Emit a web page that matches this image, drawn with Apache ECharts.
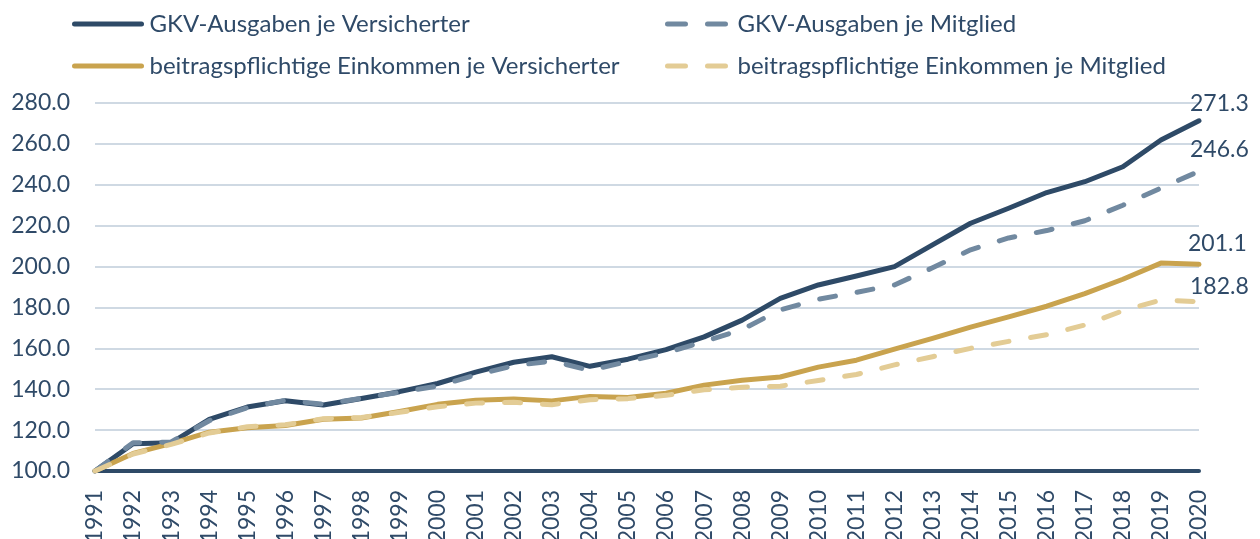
<!DOCTYPE html>
<html>
<head>
<meta charset="utf-8">
<script src="https://cdn.jsdelivr.net/npm/echarts@6/dist/echarts.min.js"></script>
<style>
html,body{margin:0;padding:0;background:#fff;}
#chart{width:1260px;height:539px;}
</style>
</head>
<body>
<div id="chart"></div>
<script>
const years = ['1991','1992','1993','1994','1995','1996','1997','1998','1999','2000','2001','2002','2003','2004','2005','2006','2007','2008','2009','2010','2011','2012','2013','2014','2015','2016','2017','2018','2019','2020'];
const yTicks = [100,120,140,160,180,200,220,240,260,280];

const gkvVersicherter = [100.0,113.3,113.8,125.2,131.3,134.4,132.3,135.5,138.8,142.8,148.4,153.2,155.9,151.2,154.7,159.4,165.6,173.8,184.4,191.0,195.4,200.0,210.6,221.2,228.5,236.2,241.5,248.8,261.9,271.3];
const gkvMitglied = [100.0,113.8,114.2,124.6,131.0,134.6,132.6,135.6,138.5,141.5,147.0,151.5,153.8,149.2,153.6,157.8,163.3,169.2,178.8,184.0,187.4,191.0,199.4,208.2,214.0,217.6,222.4,230.0,238.4,246.6];
const einkVersicherter = [100.0,108.6,113.4,119.0,121.2,122.3,125.3,125.9,129.1,132.6,134.6,135.2,134.3,136.5,136.0,138.0,142.0,144.4,146.0,150.8,154.2,159.6,164.9,170.4,175.4,180.6,186.8,193.8,201.7,201.1];
const einkMitglied = [100.0,108.3,113.0,118.6,121.6,122.6,125.6,126.2,128.7,131.4,133.2,133.6,132.4,134.9,135.4,137.0,139.7,141.0,141.5,144.3,147.2,151.9,155.9,160.0,163.4,166.7,171.4,178.4,183.6,182.8];

const names = ['GKV-Ausgaben je Versicherter','GKV-Ausgaben je Mitglied','beitragspflichtige Einkommen je Versicherter','beitragspflichtige Einkommen je Mitglied'];
const FONT = 'Lato';
const TXT = '#2F4A68';
const NAVY = '#2E4A67';
const GREY = '#7189A0';
const GOLD = '#C9A34E';
const LGOLD = '#E3CC95';

function legend(name, left, top, w, dashed, padLeft){
  return {
    data:[name], left:left, top:top, itemWidth:w, itemHeight:14, itemGap:0,
    itemStyle:{opacity:0},
    lineStyle:{width:5, cap:'round', type: dashed ? [18,22] : 'solid'},
    textStyle:{fontFamily:FONT, fontSize:24, color:TXT, lineHeight:28, padding:[0,0,0,padLeft]},
    padding:0
  };
}

function endLab(off){
  return {show:true, distance:0, offset:off, fontFamily:FONT, fontSize:23, color:TXT,
    formatter: p => Number(p.value).toFixed(1)};
}

const option = {
  animation:false,
  backgroundColor:'#fff',
  legend:[
    legend(names[0], 72, 10, 67, false, 3),
    legend(names[1], 665, 10, 58, true, 7),
    legend(names[2], 72, 52, 67, false, 3),
    legend(names[3], 665, 52, 58, true, 7)
  ],
  grid:{left:95, right:61, top:103, bottom:68, containLabel:false, outerBoundsMode:'none'},
  xAxis:{
    type:'category', data:years, boundaryGap:false,
    axisLine:{lineStyle:{color:NAVY, width:4}},
    axisTick:{show:false},
    axisLabel:{rotate:90, fontFamily:FONT, fontSize:23, color:TXT, margin:19, interval:0}
  },
  yAxis:{
    type:'value', min:yTicks[0], max:yTicks[yTicks.length-1], interval:20,
    axisLine:{show:false}, axisTick:{show:false},
    axisLabel:{fontFamily:FONT, fontSize:23, color:TXT, margin:25, formatter:v=>v.toFixed(1)},
    splitLine:{lineStyle:{color:'#BFCCDA', width:1.5}}
  },
  series:[
    {name:names[0], type:'line', data:gkvVersicherter, symbol:'none', z:3,
      lineStyle:{color:NAVY, width:5, cap:'round', join:'round'}, itemStyle:{color:NAVY},
      endLabel:endLab([-9,-17])},
    {name:names[2], type:'line', data:einkVersicherter, symbol:'none', z:3,
      lineStyle:{color:GOLD, width:5, cap:'round', join:'round'}, itemStyle:{color:GOLD},
      endLabel:endLab([-11,-21])},
    {name:names[1], type:'line', data:gkvMitglied, symbol:'none', z:4,
      lineStyle:{color:GREY, width:5, type:[16,22], cap:'round', join:'round'}, itemStyle:{color:GREY},
      endLabel:endLab([-9,-22])},
    {name:names[3], type:'line', data:einkMitglied, symbol:'none', z:4,
      lineStyle:{color:LGOLD, width:5, type:[16,22], cap:'round', join:'round'}, itemStyle:{color:LGOLD},
      endLabel:endLab([-9,-15])}
  ]
};
const chart = echarts.init(document.getElementById('chart'), null, {renderer:'canvas'});
chart.setOption(option);
</script>
</body>
</html>
